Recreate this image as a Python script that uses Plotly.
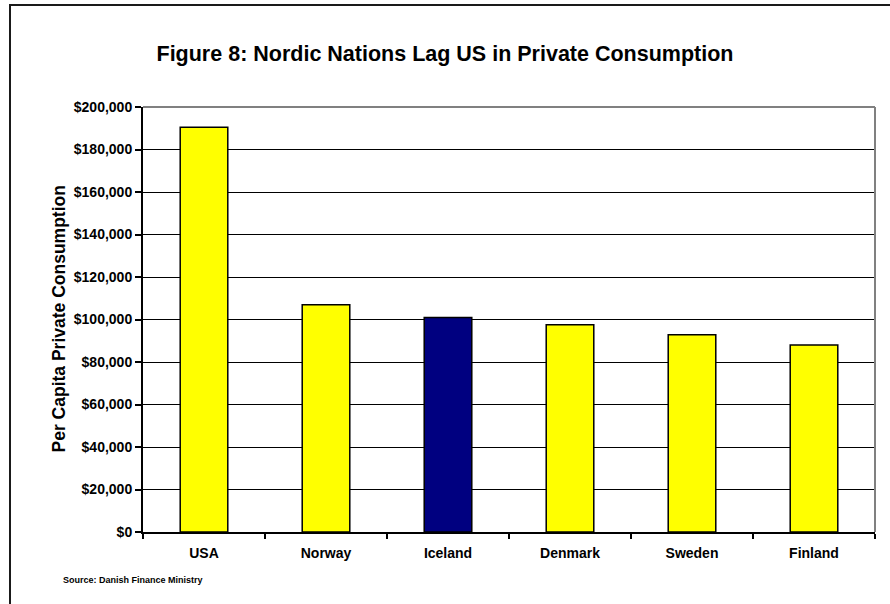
import plotly.graph_objects as go

# Per capita private consumption (USD)
countries = ["USA", "Norway", "Iceland", "Denmark", "Sweden", "Finland"]
consumption = [190500, 107000, 101000, 97500, 92800, 88000]
bar_colors = ["#FFFF00", "#FFFF00", "#000080", "#FFFF00", "#FFFF00", "#FFFF00"]
y_ticks = list(range(0, 200001, 20000))
y_tick_labels = [f"<b>${v:,}</b>" for v in y_ticks]

W, H = 890, 604
L, R, T, B = 143, 15, 107, 71.5
pw, ph = W - L - R, H - T - B


def px_x(x):
    return (x - L) / pw


def px_y(y):
    return (H - B - y) / ph


fig = go.Figure(
    go.Bar(
        x=countries,
        y=consumption,
        marker=dict(color=bar_colors, line=dict(color="black", width=1.5)),
        width=0.39,
    )
)

font_family = "Liberation Sans, Arial, sans-serif"

fig.update_layout(
    width=W,
    height=H,
    margin=dict(l=L, r=R, t=T, b=B, autoexpand=False),
    paper_bgcolor="white",
    plot_bgcolor="white",
    showlegend=False,
    font=dict(family=font_family, color="black"),
    title=dict(
        text="<b>Figure 8: Nordic Nations Lag US in Private Consumption</b>",
        x=0.5,
        xref="container",
        xanchor="center",
        y=1 - 53 / H,
        yref="container",
        yanchor="middle",
        font=dict(size=21.5, family=font_family, color="black"),
    ),
    xaxis=dict(
        type="category",
        tickvals=countries,
        ticktext=[f"<b>{c}</b>" for c in countries],
        showline=True,
        linecolor="black",
        linewidth=2,
        ticks="outside",
        tickson="boundaries",
        ticklen=5,
        tickwidth=1.5,
        tickcolor="black",
        showgrid=False,
        tickfont=dict(size=14, family=font_family, color="black"),
        ticklabelstandoff=7,
    ),
    yaxis=dict(
        range=[0, 200000],
        tickvals=y_ticks,
        ticktext=y_tick_labels,
        showline=True,
        linecolor="black",
        linewidth=2,
        ticks="outside",
        ticklen=6,
        tickwidth=1.5,
        tickcolor="black",
        showgrid=True,
        gridcolor="black",
        gridwidth=1,
        zeroline=False,
        tickfont=dict(size=14, family=font_family, color="black"),
    ),
    bargap=0.61,
)

fig.add_annotation(
    text="<b>Per Capita Private Consumption</b>",
    xref="paper",
    yref="paper",
    x=px_x(58),
    y=0.5,
    textangle=-90,
    showarrow=False,
    xanchor="center",
    yanchor="middle",
    font=dict(size=17.5, family=font_family, color="black"),
)

fig.add_annotation(
    text="<b>Source: Danish Finance Ministry</b>",
    xref="paper",
    yref="paper",
    x=px_x(61),
    y=px_y(581),
    showarrow=False,
    xanchor="left",
    yanchor="middle",
    font=dict(size=9, family=font_family, color="black"),
)

# plot-area frame: grey top and right edges
fig.add_shape(type="line", xref="paper", yref="paper", x0=0, x1=1, y0=1, y1=1,
              line=dict(color="#808080", width=2))
fig.add_shape(type="line", xref="paper", yref="paper", x0=1, x1=1, y0=0, y1=1,
              line=dict(color="#808080", width=2))

# outer chart border (top and left edges visible)
fig.add_shape(type="rect", xref="paper", yref="paper",
              x0=px_x(10), x1=px_x(W + 20), y0=px_y(H + 20), y1=px_y(5),
              line=dict(color="#1a1a1a", width=2), layer="above")

fig.write_html("out.html")
